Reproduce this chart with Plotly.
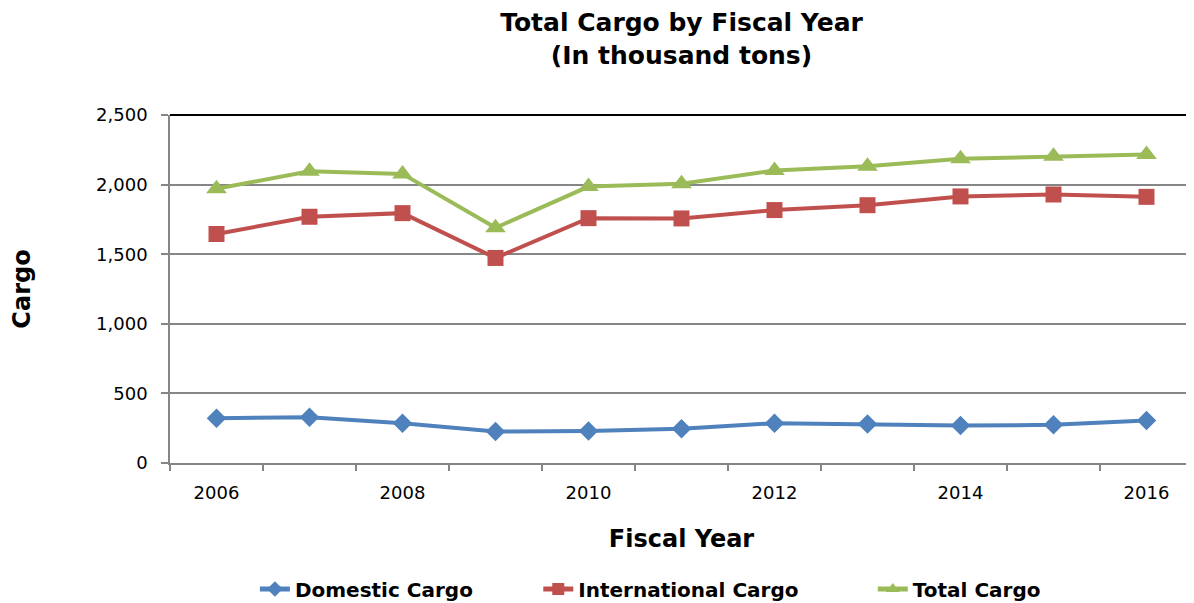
import plotly.graph_objects as go

years = ["2006", "2007", "2008", "2009", "2010", "2011", "2012", "2013", "2014", "2015", "2016"]
domestic = [322, 329, 286, 226, 229, 246, 286, 281, 269, 274, 305]
international = [1645, 1769, 1795, 1473, 1759, 1757, 1817, 1852, 1915, 1929, 1912]
total = [1970, 2096, 2077, 1690, 1986, 2006, 2101, 2132, 2185, 2203, 2216]
y_ticks = [0, 500, 1000, 1500, 2000, 2500]

FONT = "DejaVu Sans"

fig = go.Figure()
fig.add_trace(go.Scatter(x=years, y=domestic, name="Domestic Cargo", mode="lines+markers",
                         line=dict(color="#4F81BD", width=4), legend="legend",
                         marker=dict(symbol="diamond", size=15, color="#4F81BD")))
fig.add_trace(go.Scatter(x=years, y=international, name="International Cargo", mode="lines+markers",
                         line=dict(color="#C0504D", width=4), legend="legend2",
                         marker=dict(symbol="square", size=16, color="#C0504D")))
fig.add_trace(go.Scatter(x=years, y=total, name="Total Cargo", mode="lines+markers",
                         line=dict(color="#9BBB59", width=4), legend="legend3",
                         marker=dict(symbol="triangle-up", size=18, color="#9BBB59")))

leg_common = dict(orientation="h", xanchor="left", yref="container", y=0.0235, yanchor="middle",
                  font=dict(family=FONT, size=20, color="black", weight="bold"),
                  itemsizing="constant", bgcolor="rgba(0,0,0,0)")

fig.update_layout(
    width=1186, height=595,
    margin=dict(l=162, r=1, t=107, b=140),
    paper_bgcolor="white", plot_bgcolor="white",
    font=dict(family=FONT, color="black"),
    title=dict(text="<b>Total Cargo by Fiscal Year<br>(In thousand tons)</b>",
               x=0.5, xanchor="center", xref="paper", yref="container", y=0.961, yanchor="middle",
               font=dict(family=FONT, size=25, color="black")),
    showlegend=True,
    legend=dict(x=0.083, **leg_common),
    legend2=dict(x=0.36, **leg_common),
    legend3=dict(x=0.687, **leg_common),
    xaxis=dict(type="category", tickson="boundaries", ticks="outside", ticklen=6,
               tickcolor="#868686", tickwidth=1.5, ticklabelstep=2, ticklabelstandoff=13,
               showline=True, linecolor="#868686", linewidth=1.5,
               showgrid=False, tickfont=dict(family=FONT, size=18, color="black"),
               title=dict(text="<b>Fiscal Year</b>", font=dict(family=FONT, size=24, color="black"),
                          standoff=28),
               range=[-0.5, 10.5]),
    yaxis=dict(range=[0, 2500], tickvals=y_ticks, tickformat=",d",
               ticks="outside", ticklen=7, tickcolor="#868686", tickwidth=1.5,
               ticklabelstandoff=10,
               showline=True, linecolor="#868686", linewidth=1.5,
               showgrid=True, gridcolor="#868686", gridwidth=1.5,
               zeroline=False,
               tickfont=dict(family=FONT, size=18, color="black"),
               title=dict(text="<b>Cargo</b>", font=dict(family=FONT, size=24, color="black"),
                          standoff=64)),
)

fig.add_shape(type="line", xref="paper", yref="paper", x0=0, x1=1, y0=1, y1=1,
              line=dict(color="black", width=2))
fig.add_shape(type="line", xref="paper", yref="paper", x0=1, x1=1, y0=0, y1=1,
              line=dict(color="black", width=2))

fig.write_html("out.html")
